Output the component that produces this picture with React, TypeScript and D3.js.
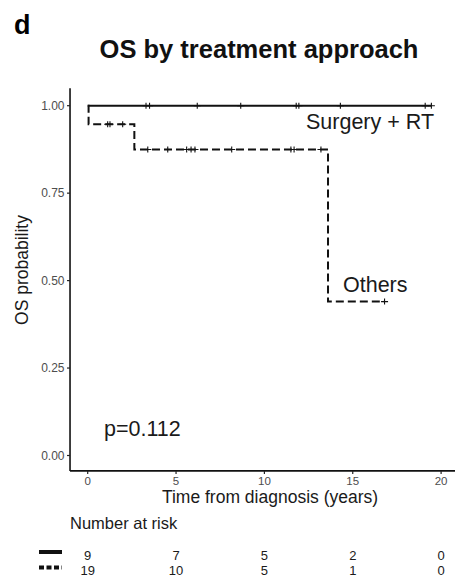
import React, {useEffect, useRef} from "react";
import * as d3 from "d3";

// survival steps
const surgeryTimes = [0, 19.45];
const surgerySurv = [1, 1];
const surgeryCensor = [3.3, 3.5, 6.2, 8.66, 11.8, 11.95, 14.3, 19.1, 19.45];

const othersTimes = [0, 0.05, 2.64, 13.6, 16.8];
const othersSurv = [1, 0.947, 0.875, 0.44, 0.44];
const othersCensor = [1.13, 1.26, 1.98, 3.4, 4.53, 5.6, 5.85, 6.07, 8.15, 11.5, 11.68, 13.2, 16.8];

const xTicks = [0, 5, 10, 15, 20];
const yTicks = [0, 0.25, 0.5, 0.75, 1];
const riskSurgery = [9, 7, 5, 2, 0];
const riskOthers = [19, 10, 5, 1, 0];

const FONT = "'Liberation Sans', Arial, Helvetica, sans-serif";

function App() {
  const ref = useRef<SVGSVGElement>(null);

  useEffect(() => {
    const svg = d3.select(ref.current);
    svg.selectAll("*").remove();

    const x = d3.scaleLinear().domain([0, 20]).range([87.7, 441.1]);
    const y = d3.scaleLinear().domain([0, 1]).range([455.5, 105.7]);
    const left = x(-1), right = x(21.5), top = y(1.05), bottom = y(-0.044);

    //panel label + title
    svg.append("text").attr("x", 14).attr("y", 34)
      .style("font-family", FONT).style("font-weight", "bold").style("font-size", "27px")
      .text("d");
    svg.append("text").attr("x", 259).attr("y", 58).attr("text-anchor", "middle")
      .style("font-family", FONT).style("font-weight", "bold").style("font-size", "25.5px")
      .style("fill", "#111").text("OS by treatment approach");

    //axes
    const ax = svg.append("g").style("font-family", FONT);
    ax.append("line").attr("x1", left).attr("x2", left).attr("y1", top).attr("y2", bottom)
      .attr("stroke", "#111").attr("stroke-width", 1.6);
    ax.append("line").attr("x1", left).attr("x2", right).attr("y1", bottom).attr("y2", bottom)
      .attr("stroke", "#111").attr("stroke-width", 1.6);
    yTicks.forEach(t => {
      ax.append("line").attr("x1", left - 3).attr("x2", left).attr("y1", y(t)).attr("y2", y(t))
        .attr("stroke", "#222").attr("stroke-width", 1.2);
      ax.append("text").attr("x", left - 5.5).attr("y", y(t) + 4).attr("text-anchor", "end")
        .style("font-size", "12px").style("fill", "#4d4d4d").text(d3.format(".2f")(t));
    });
    xTicks.forEach(t => {
      ax.append("line").attr("x1", x(t)).attr("x2", x(t)).attr("y1", bottom).attr("y2", bottom + 3)
        .attr("stroke", "#222").attr("stroke-width", 1.2);
      ax.append("text").attr("x", x(t)).attr("y", 484.5).attr("text-anchor", "middle")
        .style("font-size", "11.5px").style("fill", "#4d4d4d").text(t);
    });
    ax.append("text").attr("x", 270).attr("y", 503).attr("text-anchor", "middle")
      .style("font-size", "17.5px").style("fill", "#1a1a1a").text("Time from diagnosis (years)");
    ax.append("text").attr("transform", "translate(28,270) rotate(-90)").attr("text-anchor", "middle")
      .style("font-size", "17.5px").style("fill", "#1a1a1a").text("OS probability");

    //curves
    const line = d3.line<number>()
      .x(d => x(d[0])).y(d => y(d[1]))
      .curve(d3.curveStepAfter);
    const curves = [
      {times: surgeryTimes, surv: surgerySurv, censor: surgeryCensor, dash: null},
      {times: othersTimes, surv: othersSurv, censor: othersCensor, dash: "8,4"},
    ];
    curves.forEach(c => {
      const pts = c.times.map((t, i) => [t, c.surv[i]]);
      svg.append("path").attr("d", line(pts as any))
        .attr("fill", "none").attr("stroke", "#111").attr("stroke-width", 2)
        .attr("stroke-dasharray", c.dash);
      const stepAt = (t) => {
        let s = c.surv[0];
        c.times.forEach((tt, i) => { if (tt <= t) s = c.surv[i]; });
        return s;
      };
      c.censor.forEach(t => {
        const cx = x(t), cy = y(stepAt(t));
        svg.append("path").attr("d", `M${cx - 3.5},${cy}H${cx + 3.5}M${cx},${cy - 3}V${cy + 3}`)
          .attr("stroke", "#111").attr("stroke-width", 1.1);
      });
    });

    //annotations
    const ann = svg.append("g").style("font-family", FONT).style("font-size", "21.5px").style("fill", "#1a1a1a");
    ann.append("text").attr("x", 306).attr("y", 129).text("Surgery + RT");
    ann.append("text").attr("x", 343).attr("y", 292).text("Others");
    ann.append("text").attr("x", 104).attr("y", 436).text("p=0.112");

    //number at risk
    const risk = svg.append("g").style("font-family", FONT).style("fill", "#1a1a1a");
    risk.append("text").attr("x", 70).attr("y", 529).style("font-size", "16.5px").text("Number at risk");
    const rows = [
      {vals: riskSurgery, yy: 559.5, dash: null},
      {vals: riskOthers, yy: 575, dash: "5,2.5"},
    ];
    rows.forEach(r => {
      risk.append("line").attr("x1", 39).attr("x2", 62).attr("y1", r.yy - 7.5).attr("y2", r.yy - 7.5)
        .attr("stroke", "#111").attr("stroke-width", 4).attr("stroke-dasharray", r.dash);
      xTicks.forEach((t, i) => {
        risk.append("text").attr("x", x(t)).attr("y", r.yy).attr("text-anchor", "middle")
          .style("font-size", "13px").text(r.vals[i]);
      });
    });
  }, []);

  return (
    <svg ref={ref} width={455} height={581}
      style={{position: "absolute", left: 0, top: 0, background: "#fff"}} />
  );
}

export default App;
